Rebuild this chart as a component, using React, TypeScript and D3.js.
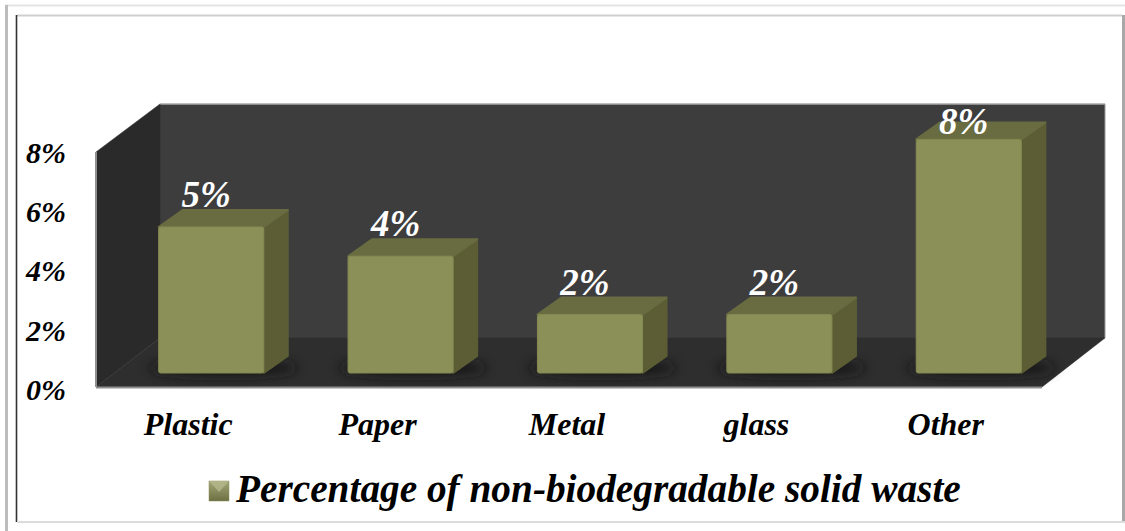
import React from "react";
import * as d3 from "d3";

// Non-biodegradable solid waste shares, in percent
const categories = ["Plastic", "Paper", "Metal", "glass", "Other"];
const percentages = [5, 4, 2, 2, 8];
const axisTicks = [0, 2, 4, 6, 8];
const legendLabel = "Percentage of non-biodegradable solid waste";

const WIDTH = 1125;
const HEIGHT = 531;
const SERIF = "'Liberation Serif', 'Times New Roman', serif";

// Chart box: front edge of the floor and the depth offset of the 3D walls
const front = { left: 96, right: 1042, top: 152, bottom: 387 };
const depth = { dx: 64, dy: -48 };
const barDepth = { dx: 24, dy: -17 };
const barBase = 373;
const barShift = 21; // bars stand further back on the floor, so they sit right of their labels

const xBand = d3
  .scaleBand<string>()
  .domain(categories)
  .range([front.left, front.right])
  .paddingInner(0.445)
  .paddingOuter(0.22);

const yBar = d3.scaleLinear().domain([0, 5]).range([barBase, 227]);
const yAxis = d3.scaleLinear().domain([0, 8]).range([390, 153]);

const poly = (pts: [number, number][]) => {
  const path = d3.path();
  pts.forEach(([x, y], i) => (i ? path.lineTo(x, y) : path.moveTo(x, y)));
  path.closePath();
  return path.toString();
};

const italicBold: React.CSSProperties = {
  fontFamily: SERIF,
  fontStyle: "italic",
  fontWeight: 700,
};

export default function App() {
  const { left, right, top, bottom } = front;
  const backLeft = left + depth.dx;
  const backRight = right + depth.dx - 1;
  const backTop = top + depth.dy;
  const backBottom = bottom + depth.dy - 1;

  return (
    <svg
      width={WIDTH}
      height={HEIGHT}
      viewBox={`0 0 ${WIDTH} ${HEIGHT}`}
      style={{ position: "absolute", left: 0, top: 0, background: "#fff" }}
    >
      <defs>
        <filter id="floorShadow" x="-30%" y="-100%" width="160%" height="300%">
          <feGaussianBlur stdDeviation="6" />
        </filter>
        <filter id="soft" x="-5%" y="-5%" width="110%" height="110%">
          <feGaussianBlur stdDeviation="0.6" />
        </filter>
        <linearGradient id="swatch" x1="0" y1="0" x2="0" y2="1">
          <stop offset="0" stopColor="#a3a878" />
          <stop offset="1" stopColor="#6d7042" />
        </linearGradient>
      </defs>

      {/* page frame */}
      <line x1={5} y1={5.5} x2={1125} y2={5.5} stroke="#e4e4e4" strokeWidth={2} />
      <line x1={6.5} y1={5} x2={6.5} y2={531} stroke="#bcbcbc" strokeWidth={3} />
      <line x1={17} y1={15.5} x2={1122} y2={15.5} stroke="#cfcfcf" strokeWidth={2} />
      <line x1={16.5} y1={15} x2={16.5} y2={522} stroke="#333" strokeWidth={1.6} />
      <line x1={1123.5} y1={15} x2={1123.5} y2={522} stroke="#a8a8a8" strokeWidth={3} />
      <line x1={17} y1={522} x2={1125} y2={522} stroke="#dcdcdc" strokeWidth={2} />

      {/* 3D chart walls and floor */}
      <g filter="url(#soft)">
        <path
          d={poly([[backLeft, backTop], [backRight, backTop], [backRight, backBottom], [backLeft, backBottom]])}
          fill="#3e3e3e"
        />
        <line x1={backLeft} y1={backTop} x2={backRight} y2={backTop} stroke="#a8a8a8" strokeWidth={1.5} />
        <line x1={backRight} y1={backTop} x2={backRight} y2={backBottom} stroke="#9a9a9a" strokeWidth={1} />
        <path
          d={poly([[left, top], [backLeft, backTop], [backLeft, backBottom], [left, bottom]])}
          fill="#2b2b2b"
          stroke="#2b2b2b"
          strokeWidth={0.5}
        />
        <path
          d={poly([[left, bottom], [backLeft, backBottom], [backRight, backBottom], [right, bottom]])}
          fill="#2e2e2e"
          stroke="#2e2e2e"
          strokeWidth={0.5}
        />
        <line x1={left} y1={bottom + 0.5} x2={right} y2={bottom + 0.5} stroke="#8f8f8f" strokeWidth={2} />
        <line x1={left} y1={top} x2={left} y2={bottom} stroke="#8f8f8f" strokeWidth={2} />
      </g>

      {/* bars */}
      {categories.map((c, i) => {
        const x0 = xBand(c)! + barShift;
        const x1 = x0 + xBand.bandwidth();
        const yT = yBar(percentages[i]);
        const { dx, dy } = barDepth;
        return (
          <g key={c}>
            <ellipse
              cx={(x0 + x1) / 2 + 12}
              cy={barBase - 5}
              rx={xBand.bandwidth() / 2 + 22}
              ry={9}
              fill="#121212"
              opacity={0.8}
              filter="url(#floorShadow)"
            />
            <g filter="url(#soft)" strokeLinejoin="round">
              <path
                d={poly([[x1, yT], [x1 + dx, yT + dy], [x1 + dx, barBase + dy], [x1, barBase]])}
                fill="#5b5d34"
                stroke="#5b5d34"
                strokeWidth={2}
              />
              <path
                d={poly([[x0, yT], [x0 + dx, yT + dy], [x1 + dx, yT + dy], [x1, yT]])}
                fill="#696c40"
                stroke="#696c40"
                strokeWidth={2}
              />
              <rect
                x={x0}
                y={yT}
                width={x1 - x0}
                height={barBase - yT}
                rx={2}
                fill="#8b9058"
                stroke="#858a52"
                strokeWidth={1}
              />
            </g>
          </g>
        );
      })}

      {/* value labels, held inside the back wall for the tallest bar */}
      {categories.map((c, i) => (
        <text
          key={c}
          x={xBand(c)! + barShift + xBand.bandwidth() / 2 - 5}
          y={Math.max(yBar(percentages[i]) - 20, 134)}
          textAnchor="middle"
          fill="#fff"
          fontSize={37}
          style={italicBold}
        >
          {percentages[i]}%
        </text>
      ))}

      {/* value axis */}
      {axisTicks.map((t) => (
        <text
          key={t}
          x={46}
          y={yAxis(t)}
          dy="0.33em"
          textAnchor="middle"
          fill="#000"
          fontSize={30}
          style={italicBold}
        >
          {t}%
        </text>
      ))}

      {/* category axis */}
      {categories.map((c) => (
        <text
          key={c}
          x={xBand(c)! + xBand.bandwidth() / 2 - 2}
          y={435}
          textAnchor="middle"
          fill="#000"
          fontSize={32}
          style={italicBold}
        >
          {c}
        </text>
      ))}

      {/* legend */}
      <rect x={209} y={481} width={20} height={20} fill="url(#swatch)" stroke="#8b9058" strokeWidth={0.5} />
      <path d={poly([[209, 481], [229, 481], [219, 492]])} fill="#b4b88c" opacity={0.8} />
      <text x={236} y={502} fill="#000" fontSize={39.3} style={italicBold}>
        {legendLabel}
      </text>
    </svg>
  );
}
